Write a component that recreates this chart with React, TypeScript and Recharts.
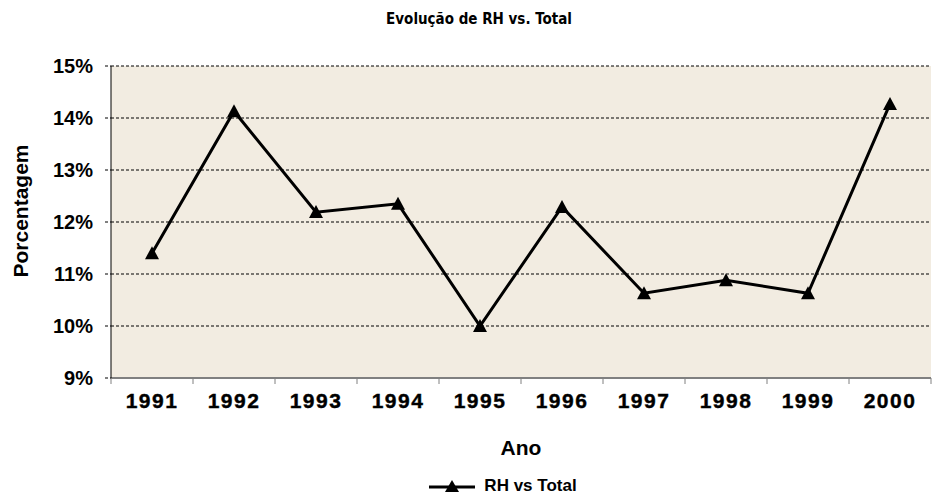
import { CartesianGrid, Legend, Line, LineChart, XAxis, YAxis } from "recharts";

const years = ["1991", "1992", "1993", "1994", "1995", "1996", "1997", "1998", "1999", "2000"];
const rhVsTotal = [11.4, 14.13, 12.19, 12.35, 10.0, 12.29, 10.63, 10.88, 10.63, 14.27];
const yTicks = [9, 10, 11, 12, 13, 14, 15];
const xTicks = [0, 1, 2, 3, 4, 5, 6, 7, 8, 9, 10];

const data = years.map((year, i) => ({ x: i + 0.5, year, value: rhVsTotal[i] }));

const W = 933;
const H = 498;
const LEFT = 111;
const RIGHT_MARGIN = 2;
const BAND = (W - LEFT - RIGHT_MARGIN) / years.length;
const FONT = "'Liberation Sans', Arial, sans-serif";

function Triangle({ cx, cy }: { cx?: number; cy?: number }) {
  if (cx == null || cy == null) return null;
  return (
    <polygon
      points={`${cx},${cy - 7} ${cx - 7},${cy + 6} ${cx + 7},${cy + 6}`}
      fill="#000"
    />
  );
}

function YearTick({ x, y, payload }: any) {
  const i = payload.value;
  if (i >= years.length) return null;
  return (
    <text
      x={x + BAND / 2}
      y={y + 22}
      textAnchor="middle"
      fontFamily={FONT}
      fontWeight="bold"
      fontSize={21}
      letterSpacing={1.5}
      stroke="#000"
      strokeWidth={0.4}
      fill="#000"
    >
      {years[i]}
    </text>
  );
}

function LegendContent() {
  return (
    <div
      style={{
        display: "flex",
        justifyContent: "center",
        alignItems: "center",
        paddingLeft: 74,
        paddingTop: 18,
        fontFamily: FONT,
        fontWeight: "bold",
        fontSize: 17,
        color: "#000",
      }}
    >
      <svg width={48} height={16} style={{ marginRight: 8 }}>
        <line x1={1} y1={9} x2={47} y2={9} stroke="#000" strokeWidth={3} />
        <polygon points="24,2 17,14 31,14" fill="#000" />
      </svg>
      <span>RH vs Total</span>
    </div>
  );
}

export default function App() {
  return (
    <div style={{ position: "absolute", left: 0, top: 0, width: W, height: H, background: "#fff" }}>
      <div
        style={{
          position: "absolute",
          left: 379,
          top: 10,
          width: 200,
          textAlign: "center",
          fontFamily: "'Liberation Sans Narrow', 'DejaVu Sans Condensed', Arial, sans-serif",
          fontWeight: "bold",
          fontSize: 15,
          color: "#000",
          whiteSpace: "nowrap",
        }}
      >
        Evolução de RH vs. Total
      </div>
      <LineChart
        width={W}
        height={H}
        data={data}
        margin={{ top: 66, right: RIGHT_MARGIN, left: 0, bottom: 0 }}
      >
        <CartesianGrid
          fill="#F2ECE1"
          vertical={false}
          stroke="#000"
          strokeDasharray="3 2"
        />
        <XAxis
          dataKey="x"
          type="number"
          domain={[0, 10]}
          ticks={xTicks}
          interval={0}
          height={80}
          axisLine={{ stroke: "#808080", strokeWidth: 2 }}
          tickLine={{ stroke: "#808080" }}
          tickSize={6}
          tick={<YearTick />}
          label={{
            content: ({ viewBox }: any) => (
              <text
                x={viewBox.x + viewBox.width / 2}
                y={viewBox.y + 77}
                textAnchor="middle"
                fontFamily={FONT}
                fontWeight="bold"
                fontSize={21}
                fill="#000"
              >
                Ano
              </text>
            ),
          }}
        />
        <YAxis
          width={LEFT}
          domain={[9, 15]}
          ticks={yTicks}
          interval={0}
          allowDataOverflow
          axisLine={{ stroke: "#000" }}
          tickLine={{ stroke: "#000", strokeDasharray: "3 2" }}
          tickSize={6}
          tickMargin={12}
          tickFormatter={(v) => `${v}%`}
          tick={{ fontFamily: FONT, fontWeight: "bold", fontSize: 20, fill: "#000" }}
          label={{
            content: () => (
              <text
                x={20}
                y={211}
                transform="rotate(-90, 20, 211)"
                textAnchor="middle"
                dominantBaseline="central"
                fontFamily={FONT}
                fontWeight="bold"
                fontSize={21}
                fill="#000"
              >
                Porcentagem
              </text>
            ),
          }}
        />
        <Legend verticalAlign="bottom" height={40} content={<LegendContent />} />
        <Line
          dataKey="value"
          name="RH vs Total"
          type="linear"
          stroke="#000"
          strokeWidth={3}
          dot={<Triangle />}
          activeDot={false}
          isAnimationActive={false}
        />
      </LineChart>
    </div>
  );
}
